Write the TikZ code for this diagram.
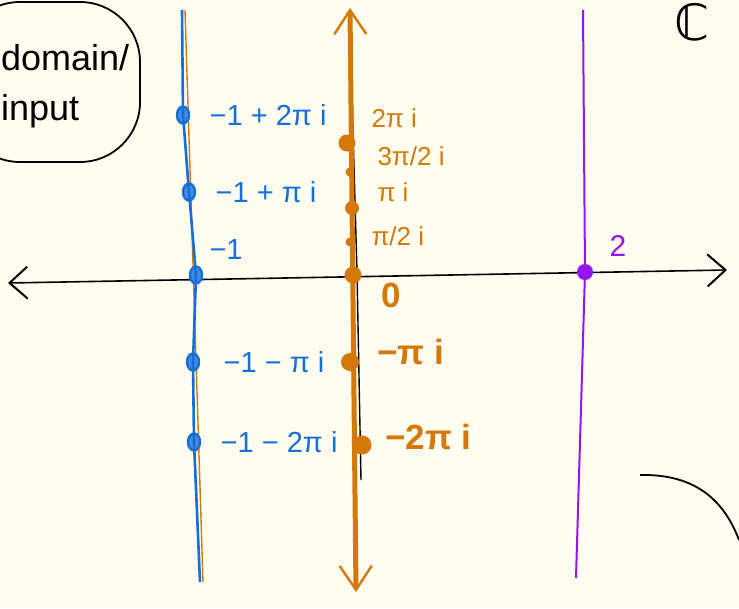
\documentclass[tikz,border=0pt]{standalone}
\usepackage{fontspec}
\setmainfont{Liberation Sans}
\newfontfamily\symfont{DejaVu Sans}
\usetikzlibrary{arrows.meta, positioning, shapes.geometric}
\definecolor{paper}{RGB}{255,253,240}
\definecolor{skyblue}{RGB}{22,110,214}
\definecolor{amber}{RGB}{212,120,10}
\definecolor{violet}{RGB}{150,20,240}

\begin{document}
\begin{tikzpicture}[
    x=1pt, y=-1pt,
    node distance=16pt,
    >={Straight Barb[length=18pt, width=32pt, line width=2pt]},
    axis/.style={<->, line width=1.6pt, black},
    bline/.style={line width=2.6pt, skyblue},
    oline/.style={<->, line width=5pt, amber,
                  >={Straight Barb[length=24pt, width=32pt, line width=2.4pt]}},
    pline/.style={line width=2pt, violet},
    bdot/.style={draw=skyblue, line width=2.4pt, fill=skyblue!80, ellipse,
                 minimum width=12pt, minimum height=17pt, inner sep=0pt},
    odot/.style={circle, fill=amber, inner sep=0pt, minimum size=#1},
    odot/.default=17pt,
    blab/.style={text=skyblue, font=\fontsize{29}{33}\selectfont, anchor=west},
    olab/.style={text=amber, font=\fontsize{26}{30}\selectfont, anchor=west},
    obig/.style={text=amber, font=\fontsize{35}{40}\selectfont\bfseries, anchor=west},
]
% paper and frame of the page
\fill[paper] (0,0) rectangle (739,608);
\useasboundingbox (0,0) rectangle (739,608);

% real axis
\coordinate (xl) at (8,283);
\coordinate (xr) at (727,270);
\draw[axis] (xl) -- (xr);

% blue line Re = -1
\coordinate (btop) at (182,10);
\coordinate (bbot) at (200,582);
\draw[amber, line width=1.4pt] ([xshift=3pt]btop) -- ([xshift=3pt]bbot);
\node[bdot] (b2) at (183,115) {};
\node[bdot] (b1) at (189,192) {};
\node[bdot] (b0) at (196,275) {};
\node[bdot] (bm1) at (193,362) {};
\node[bdot] (bm2) at (194,442) {};
\draw[bline] (btop) -- (b2.center) -- (b1.center) -- (b0.center)
    -- (bm1.center) -- (bm2.center) -- (bbot);
\node[blab, right=of b2] {−1 + 2π i};
\node[blab, right=of b1] {−1 + π i};
\node[blab] at (206,250) {−1};
\node[blab, right=20pt of bm1] {−1 − π i};
\node[blab, right=of bm2] {−1 − 2π i};

% orange line Re = 0 (image of the blue line)
\coordinate (otop) at (350,8);
\coordinate (obot) at (356,592);
\draw[black, line width=1.4pt] (351,60) -- (357,272) -- (361,480);
\draw[oline] (otop) -- (obot);
\node[odot] (o4) at (347,143) {};
\node[odot=9pt] (o3) at (350,172) {};
\node[odot=14pt] (o2) at (352,208) {};
\node[odot=9pt] (o1) at (350,242) {};
\node[odot] (o0) at (353,275) {};
\node[odot=18pt] (om2) at (350,362) {};
\node[odot=19pt] (om4) at (362,445) {};
\node[olab] at (368,118) {2π i};
\node[olab] at (374,156) {3π/2 i};
\node[olab] at (374,192) {π i};
\node[olab] at (368,236) {π/2 i};
\node[obig] at (378,295) {0};
\node[obig] at (374,352) {−π i};
\node[obig] at (382,437) {−2π i};

% purple line Re = 2
\coordinate (ptop) at (583,10);
\coordinate (pbot) at (576,578);
\node[circle, fill=violet, inner sep=0pt, minimum size=16pt] (p0) at (585,272) {};
\draw[pline] (ptop) -- (p0.center) -- (pbot);
\node[text=violet, font=\fontsize{30}{34}\selectfont, anchor=west] at (606,246) {2};

% domain tag and plane symbol
\draw[line width=1.8pt, rounded corners=60pt] (-40,2) rectangle (140,162);
\node[font=\fontsize{36}{50}\selectfont, align=left, anchor=west, inner sep=0pt]
    (tag) at (1,86) {domain/\\ input};
\node[font=\fontsize{50}{54}\selectfont\symfont] (cc) at (692,22) {ℂ};
\draw[line width=1.8pt] (640,475) .. controls (690,474) and (722,495) .. (739,540);
\end{tikzpicture}
\end{document}
